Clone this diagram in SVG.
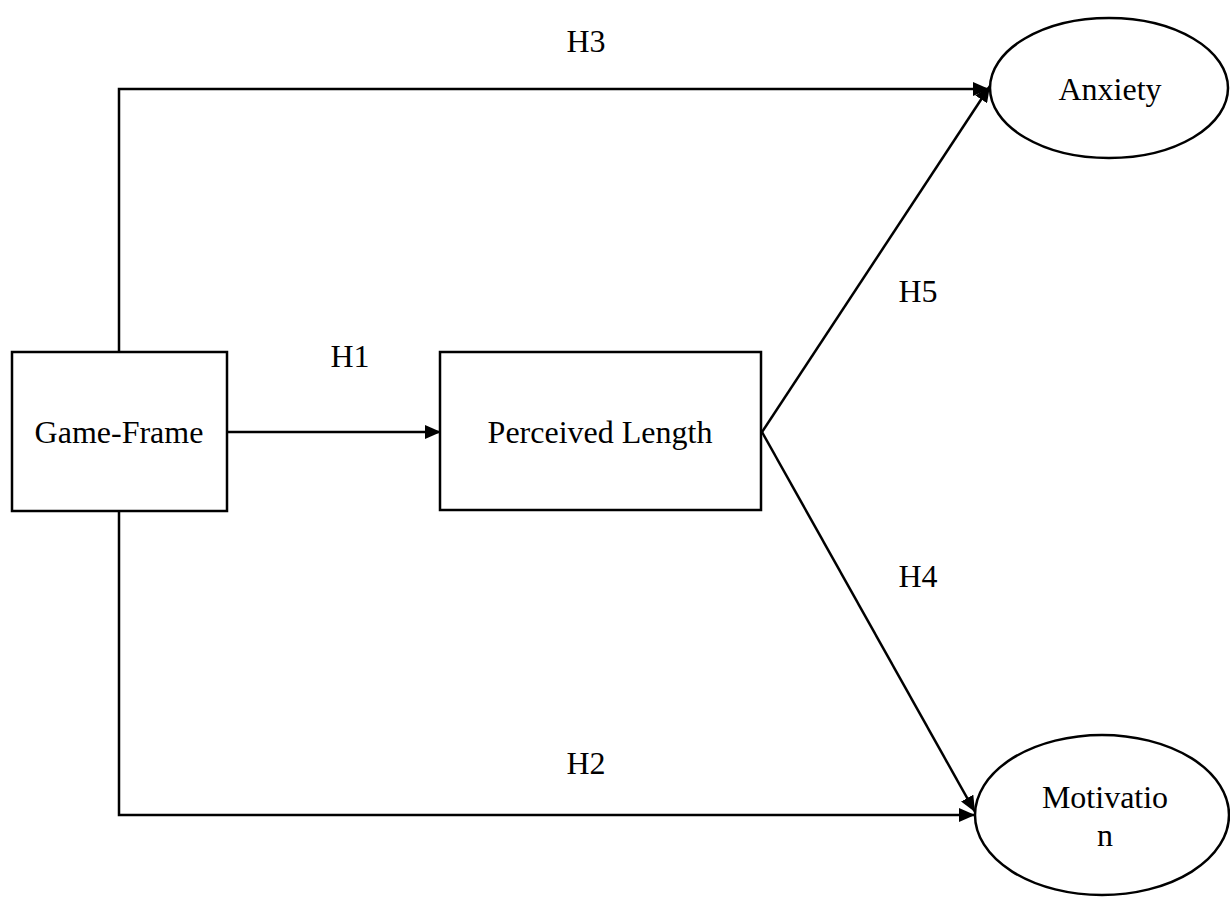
<svg xmlns="http://www.w3.org/2000/svg" width="1230" height="897" viewBox="0 0 1230 897">
<style>
.box{fill:#fff;stroke:#000;stroke-width:2.5}
.t{font-family:"Liberation Serif","Times New Roman",serif;font-size:32px;fill:#000;text-anchor:middle}
.c{fill:none;stroke:#000;stroke-width:2.5}
</style>
<defs>
<marker id="ah" viewBox="0 0 16 14" refX="16" refY="7" markerWidth="16" markerHeight="14" markerUnits="userSpaceOnUse" orient="auto">
<path d="M0,0 L16,7 L0,14 z" fill="#000"/>
</marker>
</defs>
<rect width="1230" height="897" fill="#fff"/>
<g id="connectors">
<path class="c" d="M119,352 V89 H989" marker-end="url(#ah)"/>
<path class="c" d="M119,511 V815 H975" marker-end="url(#ah)"/>
<path class="c" d="M227,432 H441" marker-end="url(#ah)"/>
<path class="c" d="M762,432 L990,86" marker-end="url(#ah)"/>
<path class="c" d="M762,432 L975,812" marker-end="url(#ah)"/>
<text class="t" x="350" y="367">H1</text>
<text class="t" x="586" y="52">H3</text>
<text class="t" x="918" y="302">H5</text>
<text class="t" x="918" y="587">H4</text>
<text class="t" x="586" y="774">H2</text>
</g>
<g id="game-frame">
<rect class="box" x="12" y="352" width="215" height="159"/>
<text class="t" x="119" y="443">Game-Frame</text>
</g>
<g id="perceived-length">
<rect class="box" x="440" y="352" width="321" height="158"/>
<text class="t" x="600" y="443">Perceived Length</text>
</g>
<g id="anxiety">
<ellipse class="box" cx="1109" cy="88" rx="119" ry="70"/>
<text class="t" x="1110" y="100">Anxiety</text>
</g>
<g id="motivation">
<ellipse class="box" cx="1102" cy="815" rx="127" ry="80"/>
<text class="t" x="1105" y="808">Motivatio</text>
<text class="t" x="1105" y="846">n</text>
</g>
</svg>
